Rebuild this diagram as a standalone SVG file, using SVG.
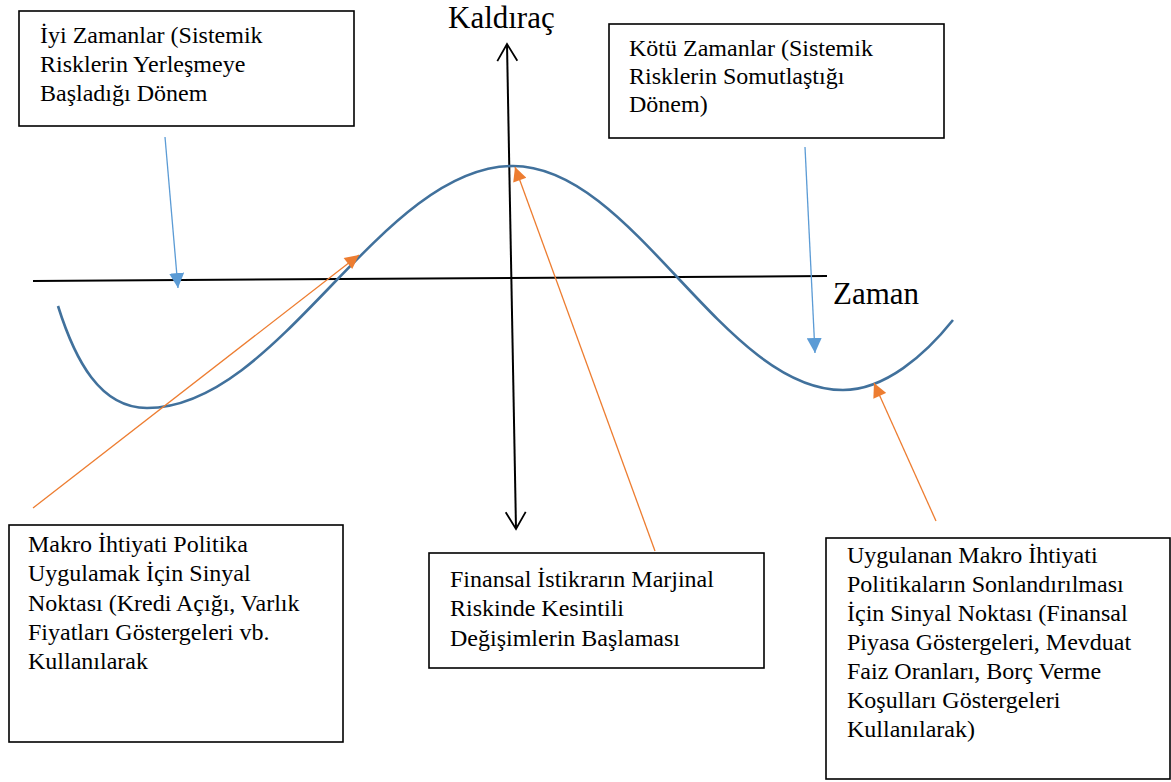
<svg xmlns="http://www.w3.org/2000/svg" width="1171" height="782" viewBox="0 0 1171 782">
<style>
.box{fill:#fff;stroke:#000;stroke-width:1.6}
.t{font-family:"Liberation Serif","Times New Roman",serif;font-size:24px;fill:#000}
.ax{font-family:"Liberation Serif","Times New Roman",serif;font-size:31px;fill:#000}
.axis{stroke:#000;stroke-width:2;fill:none}
.curve{stroke:#41719C;stroke-width:2.6;fill:none}
.blue{stroke:#5B9BD5;stroke-width:1.3;fill:none;marker-end:url(#mb)}
.orange{stroke:#ED7D31;stroke-width:1.3;fill:none;marker-end:url(#mo)}
</style>
<defs>
<marker id="mb" viewBox="0 0 10 10" refX="10" refY="5" markerWidth="15" markerHeight="15" markerUnits="userSpaceOnUse" orient="auto"><path d="M0,0 L10,5 L0,10 z" fill="#5B9BD5"/></marker>
<marker id="mo" viewBox="0 0 10 10" refX="10" refY="5" markerWidth="16" markerHeight="14" markerUnits="userSpaceOnUse" orient="auto"><path d="M0,0 L10,5 L0,10 z" fill="#ED7D31"/></marker>
<marker id="mv" viewBox="0 0 18 20" refX="17" refY="10" markerWidth="18" markerHeight="20" markerUnits="userSpaceOnUse" orient="auto-start-reverse" overflow="visible"><path d="M0,0 L17,10 L0,20" fill="none" stroke="#000" stroke-width="1.8"/></marker>
</defs>
<rect width="1171" height="782" fill="#fff"/>
<g id="axes">
<line class="axis" x1="33" y1="281" x2="827" y2="276"/>
<line class="axis" x1="507" y1="44" x2="516" y2="529" style="marker-start:url(#mv);marker-end:url(#mv)"/>
<text class="ax" x="448" y="28">Kaldıraç</text>
<text class="ax" x="833" y="304">Zaman</text>
</g>
<g id="curve">
<path class="curve" d="M58,306 C75,360 100,408 147,408 C280,408 380,166 513,166 C633,166 723,390 843,390 C885,390 925,355 953,320"/>
</g>
<g id="connectors">
<line class="blue" x1="165" y1="137" x2="178" y2="288"/>
<line class="blue" x1="805" y1="147" x2="815" y2="353"/>
<line class="orange" x1="33" y1="508" x2="359" y2="255"/>
<line class="orange" x1="655" y1="551" x2="515" y2="167"/>
<line class="orange" x1="936" y1="521" x2="874" y2="383"/>
</g>
<g id="box-iyi">
<rect class="box" x="19" y="11" width="335" height="115"/>
<text class="t" x="40" y="43">İyi Zamanlar (Sistemik</text>
<text class="t" x="40" y="72">Risklerin Yerleşmeye</text>
<text class="t" x="40" y="101">Başladığı Dönem</text>
</g>
<g id="box-kotu">
<rect class="box" x="609" y="24" width="335" height="114"/>
<text class="t" x="629" y="56">Kötü Zamanlar (Sistemik</text>
<text class="t" x="629" y="84">Risklerin Somutlaştığı</text>
<text class="t" x="629" y="112">Dönem)</text>
</g>
<g id="box-makro">
<rect class="box" x="9" y="525" width="334" height="217"/>
<text class="t" x="28" y="552">Makro İhtiyati Politika</text>
<text class="t" x="28" y="581">Uygulamak İçin Sinyal</text>
<text class="t" x="28" y="611">Noktası (Kredi Açığı, Varlık</text>
<text class="t" x="28" y="640">Fiyatları Göstergeleri vb.</text>
<text class="t" x="28" y="669">Kullanılarak</text>
</g>
<g id="box-finansal">
<rect class="box" x="429" y="553" width="335" height="115"/>
<text class="t" x="450" y="587">Finansal İstikrarın Marjinal</text>
<text class="t" x="450" y="616">Riskinde Kesintili</text>
<text class="t" x="450" y="646">Değişimlerin Başlaması</text>
</g>
<g id="box-uygulanan">
<rect class="box" x="826" y="538" width="344" height="241"/>
<text class="t" x="847" y="563">Uygulanan Makro İhtiyati</text>
<text class="t" x="847" y="592">Politikaların Sonlandırılması</text>
<text class="t" x="847" y="621">İçin Sinyal Noktası (Finansal</text>
<text class="t" x="847" y="650">Piyasa Göstergeleri, Mevduat</text>
<text class="t" x="847" y="679">Faiz Oranları, Borç Verme</text>
<text class="t" x="847" y="708">Koşulları Göstergeleri</text>
<text class="t" x="847" y="737">Kullanılarak)</text>
</g>
</svg>
